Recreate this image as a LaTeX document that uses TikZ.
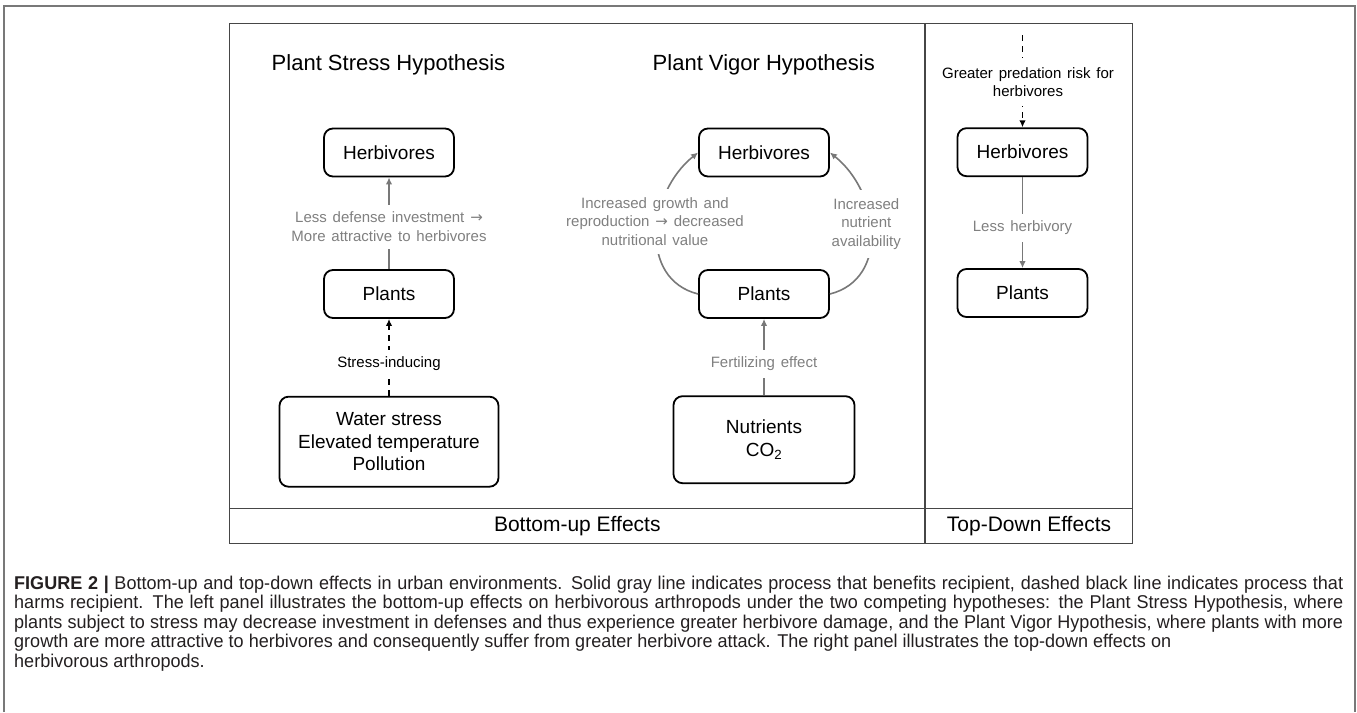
\documentclass[tikz,border=0pt]{standalone}
\usepackage{fontspec}
\setmainfont{Liberation Sans}
\newfontfamily\arrowfont{DejaVu Sans}
\newfontfamily\capfont[FakeStretch=0.975]{Liberation Sans}
\newfontfamily\labfont[WordSpace={1.4,1.2,1}]{Liberation Sans}
\usetikzlibrary{arrows.meta}
\definecolor{lblgray}{RGB}{128,128,128}
\definecolor{arrgray}{RGB}{120,120,120}
\definecolor{framegray}{RGB}{70,70,70}
\definecolor{outergray}{RGB}{120,120,120}
\definecolor{captextcol}{RGB}{35,31,32}
\newcommand{\rarr}{{\arrowfont\char"2192}}
\newcommand{\capline}[1]{\makebox[1329pt][s]{#1}}
\begin{document}
\begin{tikzpicture}[x=1pt,y=-1pt,
  box/.style={draw=black,line width=1.8pt,rounded corners=9pt,minimum width=130pt,minimum height=48pt,inner sep=0pt,align=center,font=\fontsize{19}{22.7}\selectfont},
  ttl/.style={inner sep=0pt,font=\fontsize{22}{26}\selectfont},
  sec/.style={inner sep=0pt,font=\fontsize{21}{24}\selectfont},
  glab/.style={fill=white,text=lblgray,align=center,inner xsep=2pt,inner ysep=7pt,font=\labfont\fontsize{15}{18.8}\selectfont},
  blab/.style={fill=white,text=black,align=center,inner xsep=2pt,inner ysep=7pt,font=\labfont\fontsize{15}{18.4}\selectfont},
  garrow/.style={draw=arrgray,line width=1.6pt,-{Latex[length=7pt,width=6.5pt]}},
  darrow/.style={draw=black,line width=1.6pt,dash pattern=on 6pt off 5pt,-{Latex[length=7pt,width=6.5pt]}},
  captext/.style={inner sep=0pt,text=captextcol,font=\capfont\fontsize{18.5}{19.6}\selectfont},
  frm/.style={draw=framegray,line width=1.4pt}]
\useasboundingbox (0,0) rectangle (1357,712);
% outer frame
\draw[outergray,line width=2pt] (4,712) -- (4,6) -- (1355,6) -- (1355,712);
% diagram frame
\draw[frm] (229.5,23.5) rectangle (1132.5,543.3);
\draw[frm] (925,23.5) -- (925,543.3);
\draw[frm] (229.5,508.7) -- (1132.5,508.7);
\node[sec] (bu) at (577.3,526) {Bottom-up Effects};
\node[sec] (td) at (1029,526.5) {Top-Down Effects};
% titles
\node[ttl] (t1) at (388.5,64.5) {Plant Stress Hypothesis};
\node[ttl] (t2) at (763.8,65) {Plant Vigor Hypothesis};
% stress column
\node[box] (sH) at (389,152.5) {Herbivores};
\node[box] (sP) at (389,294) {Plants};
\node[box,minimum width=219pt,minimum height=90pt] (sS) at (389,441.7) {Water stress\\Elevated temperature\\Pollution};
% vigor column
\node[box] (mH) at (764,152.5) {Herbivores};
\node[box] (mP) at (764,294) {Plants};
\node[box,minimum width=181pt,minimum height=87pt] (mN) at (764,439.7) {Nutrients\\CO\textsubscript{2}};
% top-down column
\coordinate (rTop) at (1022.5,35);
\node[box] (rH) at (1022.5,152.2) {Herbivores};
\node[box] (rP) at (1022.5,293) {Plants};
% connectors
\draw[garrow] (sP) -- node[glab,pos=0.46] (l1) {Less defense investment \rarr\\More attractive to herbivores} (sH);
\draw[darrow] (sS) -- node[blab,pos=0.42] (l2) {Stress-inducing} (sP);
\draw[garrow] (mN) -- node[glab,pos=0.41] (l3) {Fertilizing effect} (mP);
\draw[garrow] (mP.west) .. controls +(-60,-15) and +(-50,40) .. (mH.west);
\draw[garrow] (mP.east) .. controls +(60,-15) and +(50,40) .. (mH.east);
\node[glab,inner ysep=8pt] (l4) at (655,221.5) {Increased growth and\\reproduction \rarr\ decreased\\nutritional value};
\node[glab,inner ysep=8pt] (l5) at (866.3,224) {Increased\\nutrient\\availability};
\draw[darrow] (rTop) -- node[blab,pos=0.51,xshift=5.5pt,inner ysep=9pt] (l6) {Greater predation risk for\\herbivores} (rH);
\draw[garrow] (rH) -- node[glab,pos=0.56] (l7) {Less herbivory} (rP);
% caption
\node[captext,anchor=base west] (c1) at (14,589) {\capline{\textbf{FIGURE 2 |} Bottom-up and top-down effects in urban environments. Solid gray line indicates process that benefits recipient, dashed black line indicates process that}};
\node[captext,anchor=base west] (c2) at (14,608.5) {\capline{harms recipient. The left panel illustrates the bottom-up effects on herbivorous arthropods under the two competing hypotheses: the Plant Stress Hypothesis, where}};
\node[captext,anchor=base west] (c3) at (14,628) {\capline{plants subject to stress may decrease investment in defenses and thus experience greater herbivore damage, and the Plant Vigor Hypothesis, where plants with more}};
\node[captext,anchor=base west] (c4) at (14,647.5) {growth are more attractive to herbivores and consequently suffer from greater herbivore attack. The right panel illustrates the top-down effects on};
\node[captext,anchor=base west] (c5) at (14,667) {herbivorous arthropods.};
\end{tikzpicture}
\end{document}
